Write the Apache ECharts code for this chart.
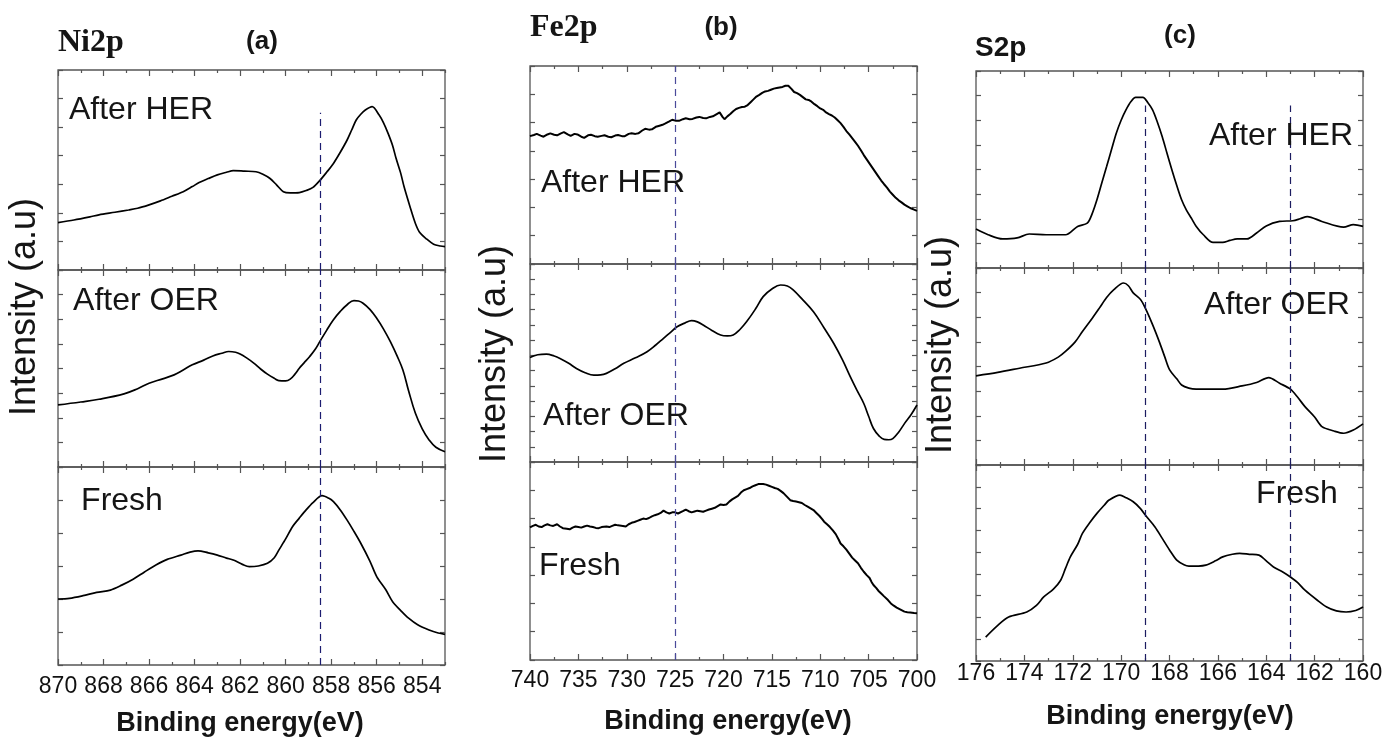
<!DOCTYPE html>
<html>
<head>
<meta charset="utf-8">
<script src="https://cdn.jsdelivr.net/npm/echarts@6/dist/echarts.min.js"></script>
<style>
html,body{margin:0;padding:0;background:#fff;}
#chart{width:1387px;height:742px;}
</style>
</head>
<body>
<div id="chart"></div>
<script>
// ---------------- DATA ----------------
// Ni2p panel (a): binding energy (eV), intensity (a.u.)
const niHER = [[870,1.66],[869.3,1.75],[868.6,1.86],[868.2,1.93],[867.5,2.02],[866.9,2.1],[866.5,2.16],[866,2.28],[865.5,2.42],[865,2.58],[864.5,2.74],[864.1,2.92],[863.8,3.06],[863.4,3.2],[863,3.33],[862.6,3.42],[862.3,3.48],[861.8,3.46],[861.3,3.44],[861,3.35],[860.7,3.21],[860.4,2.98],[860.1,2.74],[859.8,2.7],[859.4,2.71],[859.1,2.78],[858.8,2.89],[858.5,3.13],[858.2,3.42],[857.9,3.73],[857.6,4.12],[857.3,4.55],[857.1,4.9],[856.9,5.25],[856.7,5.45],[856.5,5.6],[856.2,5.72],[855.9,5.43],[855.7,5.15],[855.5,4.78],[855.3,4.35],[855.15,3.91],[854.95,3.4],[854.8,2.92],[854.55,2.25],[854.3,1.63],[854.1,1.3],[853.8,1.08],[853.5,0.9],[853.2,0.84],[853,0.82]];
const niOER = [[870,2.52],[869,2.64],[868.2,2.75],[867.1,2.97],[866.5,3.18],[866,3.4],[865.4,3.58],[864.9,3.74],[864.5,3.94],[864.1,4.15],[863.6,4.34],[863.2,4.51],[862.8,4.62],[862.5,4.69],[862.2,4.66],[862,4.59],[861.7,4.42],[861.4,4.22],[861.1,3.98],[860.8,3.77],[860.5,3.6],[860.3,3.51],[860,3.5],[859.8,3.57],[859.6,3.76],[859.4,4.01],[859.2,4.22],[858.95,4.48],[858.7,4.78],[858.5,5.09],[858.2,5.55],[857.9,5.98],[857.6,6.32],[857.3,6.59],[857,6.76],[856.8,6.74],[856.6,6.65],[856.3,6.4],[856,6.04],[855.7,5.6],[855.4,5.09],[855.1,4.5],[854.85,3.94],[854.6,3.1],[854.3,2.18],[854,1.55],[853.7,1.1],[853.4,0.8],[853,0.62]];
const niFresh = [[870,2.0],[869.5,2.02],[868.9,2.1],[868.3,2.2],[867.7,2.27],[867.2,2.42],[866.7,2.6],[866.2,2.82],[865.7,3.03],[865.2,3.2],[864.6,3.33],[864.2,3.42],[863.85,3.46],[863.4,3.4],[863,3.33],[862.6,3.24],[862.3,3.18],[861.9,3.05],[861.6,2.98],[861.2,3.0],[860.8,3.08],[860.5,3.25],[860.3,3.48],[860,3.82],[859.7,4.19],[859.4,4.45],[859.1,4.7],[858.8,4.92],[858.4,5.13],[858.1,5.05],[857.9,4.95],[857.6,4.7],[857.3,4.39],[857,4.05],[856.7,3.69],[856.3,3.15],[856,2.68],[855.6,2.28],[855.3,1.92],[854.9,1.62],[854.6,1.42],[854.2,1.22],[853.7,1.06],[853.3,0.97],[853,0.93]];

// Fe2p panel (b)
const feHER = [[740,4.52],[739.6,4.56],[739.3,4.6],[738.9,4.54],[738.6,4.5],[738.2,4.58],[737.9,4.62],[737.5,4.57],[737.2,4.55],[736.8,4.62],[736.5,4.66],[736.1,4.58],[735.8,4.53],[735.4,4.6],[735.1,4.58],[734.7,4.5],[734.4,4.46],[734,4.55],[733.7,4.57],[733.3,4.52],[733,4.5],[732.6,4.53],[732.3,4.55],[731.9,4.5],[731.6,4.48],[731.2,4.54],[730.9,4.56],[730.5,4.52],[730.2,4.52],[729.8,4.6],[729.5,4.62],[729.1,4.6],[728.8,4.62],[728.4,4.72],[728.1,4.78],[727.7,4.75],[727.4,4.76],[727,4.85],[726.7,4.88],[726.3,4.92],[726,4.97],[725.6,5.04],[725.3,5.1],[724.9,5.06],[724.6,5.06],[724.2,5.12],[723.9,5.15],[723.5,5.12],[723.2,5.13],[722.8,5.18],[722.5,5.2],[722.1,5.16],[721.8,5.15],[721.4,5.2],[721.1,5.22],[720.7,5.3],[720.4,5.36],[720.1,5.2],[719.9,5.12],[719.6,5.22],[719.3,5.3],[719,5.4],[718.7,5.48],[718.4,5.52],[718.1,5.55],[717.8,5.56],[717.5,5.62],[717.2,5.72],[716.9,5.82],[716.6,5.92],[716.3,5.98],[716,6.05],[715.7,6.1],[715.4,6.12],[715.1,6.16],[714.8,6.2],[714.5,6.22],[714.2,6.24],[713.9,6.26],[713.6,6.3],[713.3,6.3],[713,6.2],[712.7,6.08],[712.4,6.04],[712.1,5.98],[711.8,5.9],[711.5,5.82],[711.2,5.8],[710.9,5.74],[710.6,5.65],[710.3,5.58],[710,5.5],[709.7,5.45],[709.4,5.36],[709.1,5.3],[708.8,5.25],[708.5,5.18],[708.2,5.08],[707.9,4.98],[707.6,4.85],[707.3,4.7],[707,4.58],[706.7,4.45],[706.4,4.32],[706.1,4.18],[705.8,4.02],[705.5,3.85],[705.2,3.7],[704.9,3.55],[704.6,3.4],[704.3,3.25],[704,3.1],[703.7,2.95],[703.4,2.82],[703.1,2.7],[702.8,2.56],[702.5,2.45],[702.2,2.34],[701.9,2.25],[701.6,2.18],[701.3,2.1],[701,2.04],[700.7,1.98],[700.3,1.92],[700,1.88]];
const feOER = [[740,3.43],[739.2,3.52],[738.3,3.54],[737.5,3.48],[736.9,3.4],[736,3.24],[735.2,3.07],[734.3,2.93],[733.4,2.85],[732.7,2.86],[732.1,2.91],[731.2,3.06],[730.3,3.24],[729.1,3.42],[727.9,3.62],[727,3.84],[726.2,4.06],[725.5,4.25],[724.8,4.44],[724,4.56],[723.3,4.64],[722.7,4.6],[722.1,4.5],[721.2,4.32],[720.3,4.17],[719.6,4.14],[719,4.17],[718.3,4.35],[717.6,4.61],[716.7,5.02],[715.9,5.43],[715,5.68],[714.1,5.81],[713.4,5.78],[712.8,5.65],[711.8,5.32],[710.7,4.93],[709.6,4.4],[708.6,3.89],[707.7,3.35],[706.9,2.8],[706.2,2.35],[705.5,1.92],[705,1.5],[704.5,1.1],[703.9,0.85],[703.4,0.74],[702.9,0.73],[702.5,0.77],[701.9,0.98],[701.3,1.26],[700.6,1.56],[700,1.87]];
const feFresh = [[740,4.69],[739.7,4.74],[739.4,4.78],[739.1,4.72],[738.8,4.7],[738.5,4.76],[738.2,4.8],[737.9,4.76],[737.6,4.74],[737.2,4.8],[736.9,4.72],[736.6,4.66],[736.2,4.64],[735.9,4.62],[735.6,4.68],[735.3,4.72],[735,4.7],[734.7,4.68],[734.4,4.72],[734.1,4.75],[733.8,4.72],[733.5,4.7],[733.2,4.67],[732.9,4.66],[732.6,4.7],[732.4,4.73],[732.1,4.72],[731.8,4.7],[731.5,4.74],[731.2,4.78],[730.9,4.76],[730.7,4.77],[730.4,4.74],[730.1,4.72],[729.8,4.8],[729.5,4.85],[729.2,4.88],[728.9,4.92],[728.6,4.96],[728.3,5.0],[728,4.98],[727.7,5.02],[727.4,5.08],[727.1,5.12],[726.8,5.15],[726.5,5.2],[726.2,5.28],[725.9,5.22],[725.6,5.18],[725.3,5.22],[725,5.22],[724.7,5.18],[724.5,5.2],[724.2,5.26],[723.9,5.32],[723.6,5.26],[723.3,5.22],[723,5.25],[722.7,5.28],[722.4,5.26],[722.1,5.24],[721.8,5.28],[721.5,5.32],[721.2,5.35],[720.9,5.38],[720.6,5.44],[720.3,5.5],[720,5.48],[719.7,5.5],[719.4,5.6],[719.1,5.68],[718.8,5.74],[718.5,5.8],[718.2,5.92],[717.9,6.0],[717.6,6.04],[717.3,6.08],[717,6.14],[716.7,6.18],[716.4,6.22],[716.2,6.24],[715.9,6.22],[715.6,6.2],[715.3,6.16],[715,6.12],[714.7,6.08],[714.4,6.05],[714.1,5.98],[713.8,5.9],[713.4,5.76],[713.1,5.65],[712.8,5.62],[712.5,5.6],[712.2,5.58],[711.9,5.55],[711.6,5.48],[711.3,5.42],[711,5.36],[710.7,5.3],[710.4,5.2],[710.1,5.1],[709.8,4.98],[709.6,4.89],[709.3,4.8],[709,4.7],[708.7,4.58],[708.4,4.45],[708.1,4.26],[707.9,4.12],[707.6,4.02],[707.3,3.9],[707,3.76],[706.7,3.62],[706.4,3.52],[706.1,3.42],[705.8,3.26],[705.5,3.12],[705.2,3.0],[704.9,2.9],[704.7,2.76],[704.5,2.65],[704.2,2.54],[704,2.45],[703.7,2.35],[703.4,2.25],[703,2.12],[702.7,2.0],[702.4,1.92],[702.1,1.85],[701.7,1.78],[701.3,1.71],[701,1.69],[700.7,1.68],[700.3,1.66],[700,1.65]];

// S2p panel (c)
const sHER = [[176,1.58],[175.5,1.35],[174.9,1.18],[174.3,1.22],[173.8,1.38],[173.1,1.35],[172.3,1.35],[171.8,1.69],[171.4,1.82],[171.2,2.2],[171,2.77],[170.8,3.45],[170.6,4.12],[170.4,4.8],[170.2,5.47],[170,6.0],[169.8,6.42],[169.6,6.75],[169.4,6.93],[169.1,6.93],[168.9,6.72],[168.7,6.42],[168.5,5.92],[168.3,5.33],[168.1,4.65],[167.9,3.98],[167.7,3.35],[167.5,2.77],[167.3,2.35],[167.1,2.03],[166.9,1.7],[166.6,1.35],[166.2,1.04],[165.8,1.04],[165.5,1.12],[165.2,1.18],[164.8,1.18],[164.4,1.42],[164,1.71],[163.45,1.89],[162.9,1.92],[162.6,2.0],[162.3,2.09],[161.7,1.89],[160.8,1.66],[160.4,1.76],[160,1.69]];
const sOER = [[176,3.62],[175.1,3.76],[174.2,3.93],[173.1,4.14],[172.6,4.38],[172.3,4.61],[171.9,5.0],[171.6,5.42],[171.2,5.95],[170.9,6.37],[170.6,6.8],[170.3,7.12],[169.9,7.39],[169.7,7.28],[169.5,6.99],[169.2,6.72],[169,6.37],[168.7,5.7],[168.4,4.95],[168.2,4.4],[168,3.87],[167.7,3.5],[167.5,3.25],[167.2,3.12],[166.9,3.08],[166.3,3.08],[165.8,3.08],[165,3.21],[164.4,3.35],[163.9,3.55],[163.45,3.32],[163,3.08],[162.7,2.75],[162.4,2.37],[162,1.95],[161.7,1.56],[161.2,1.38],[160.8,1.29],[160.4,1.42],[160,1.67]];
const sFresh = [[175.6,1.1],[175.1,1.64],[174.65,2.02],[173.9,2.25],[173.5,2.55],[173.2,2.94],[172.8,3.3],[172.5,3.71],[172.3,4.25],[172.1,4.78],[171.8,5.35],[171.6,5.86],[171.3,6.35],[171,6.78],[170.7,7.15],[170.5,7.39],[170.05,7.62],[169.8,7.5],[169.5,7.31],[169.2,7.0],[169,6.7],[168.6,6.15],[168.3,5.63],[168,5.1],[167.7,4.63],[167.4,4.42],[167.2,4.36],[166.8,4.36],[166.5,4.4],[166.1,4.6],[165.8,4.78],[165.4,4.9],[165.1,4.94],[164.7,4.9],[164.3,4.86],[164,4.6],[163.7,4.32],[163.3,4.08],[163,3.86],[162.7,3.6],[162.4,3.25],[161.9,2.8],[161.5,2.48],[161.1,2.3],[160.7,2.25],[160.3,2.32],[160,2.48]];

// Tick values
const niMajor = [854,856,858,860,862,864,866,868,870];
const niMinor = [853,855,857,859,861,863,865,867,869];
const feMajor = [700,705,710,715,720,725,730,735,740];
const feMinor = [702.5,707.5,712.5,717.5,722.5,727.5,732.5,737.5];
const sMajor = [160,162,164,166,168,170,172,174,176];
const sMinor = [161,163,165,167,169,171,173,175];

// Reference (dashed) lines and their top in the upper sub-plot
const niDash = [858.5];
const feDash = [725];
const sDash = [169, 163];
const niDashTop = 5.5;
const sDashTop = 6.6;

// Texts
const panelTitles = ['Ni2p', 'Fe2p', 'S2p'];
const panelTags = ['(a)', '(b)', '(c)'];
const stateNames = ['After HER', 'After OER', 'Fresh'];
const yTitle = 'Intensity (a.u)';
const xTitle = 'Binding energy(eV)';

// ---------------- LAYOUT ----------------
const panels = [
  { grids: [[58,70,387,200],[58,270,387,197],[58,467,387,198]], xMin:853, xMax:870,
    major:niMajor, minor:niMinor, data:[niHER,niOER,niFresh], smooth:[0.3,0.4,0.3], width:[1.7,1.7,1.7],
    yMax:[7,8,6], yStep:[1,1,1], dash:niDash, dashTop:[niDashTop,null,null], labelMargin:10, dashColor:'#1c1c70' },
  { grids: [[530,66,387,198],[530,264,387,198],[530,462,387,198]], xMin:700, xMax:740,
    major:feMajor, minor:feMinor, data:[feHER,feOER,feFresh], smooth:[false,0.4,false], width:[2,1.7,2],
    yMax:[7,6.5,7], yStep:[1,0.5,1], dash:feDash, dashTop:[null,null,null], labelMargin:9, dashColor:'#4a4a9a' },
  { grids: [[976,71,387,197],[976,268,387,197],[976,465,387,196]], xMin:160, xMax:176,
    major:sMajor, minor:sMinor, data:[sHER,sOER,sFresh], smooth:[0.3,0.3,0.3], width:[1.7,1.7,1.7],
    yMax:[8,8,9], yStep:[1,1,1], dash:sDash, dashTop:[sDashTop,null,null], labelMargin:1, dashColor:'#1c1c60' }
];

const AX = '#555';
function mkX(gi, pos, vals, len, showLabel, p) {
  return {
    type:'value', gridIndex:gi, position:pos, min:p.xMin, max:p.xMax, inverse:true,
    axisLine:{show:false}, splitLine:{show:false},
    axisTick:{show:true, inside:true, length:len, customValues:vals, lineStyle:{color:AX, width:1.2}},
    axisLabel:{show:showLabel, customValues:vals, margin:p.labelMargin, fontSize:23,
      fontFamily:'"Liberation Sans", Arial, sans-serif', color:'#111'}
  };
}
function mkY(gi, pos, max, step) {
  return {
    type:'value', gridIndex:gi, position:pos, min:0, max:max, interval:step,
    axisLine:{show:false}, splitLine:{show:false}, axisLabel:{show:false},
    axisTick:{show:true, inside:true, length:5, lineStyle:{color:AX, width:1.2}}
  };
}

const grid = [], xAxis = [], yAxis = [], series = [];
panels.forEach(p => {
  p.grids.forEach((g, k) => {
    const gi = grid.length;
    grid.push({left:g[0], top:g[1], width:g[2], height:g[3], show:true,
      borderColor:AX, borderWidth:1.3, backgroundColor:'transparent'});
    const xi = xAxis.length;
    xAxis.push(mkX(gi,'bottom',p.major,6,k===2,p));
    xAxis.push(mkX(gi,'bottom',p.minor,3,false,p));
    xAxis.push(mkX(gi,'top',p.major,6,false,p));
    xAxis.push(mkX(gi,'top',p.minor,3,false,p));
    const yi = yAxis.length;
    yAxis.push(mkY(gi,'left',p.yMax[k],p.yStep[k]));
    yAxis.push(mkY(gi,'right',p.yMax[k],p.yStep[k]));
    const top = p.dashTop[k] == null ? p.yMax[k] : p.dashTop[k];
    series.push({
      type:'line', xAxisIndex:xi, yAxisIndex:yi, data:p.data[k], showSymbol:false,
      smooth:p.smooth[k], lineStyle:{color:'#000', width:p.width[k]}, silent:true, z:3,
      markLine:{
        silent:true, symbol:['none','none'], label:{show:false}, animation:false,
        lineStyle:{type:[7,5], color:p.dashColor, width:1.2},
        data: p.dash.map(x => [{coord:[x,0]},{coord:[x,top]}])
      }
    });
  });
});

// ---------------- TEXT ----------------
const SANS = '"Liberation Sans", Arial, sans-serif';
const graphic = [];
function txt(x, y, text, font, align, rot) {
  const el = {type:'text', x:x, y:y, silent:true, z:10,
    style:{text:text, font:font, textAlign:align||'left', textVerticalAlign:'middle', fill:'#151515'}};
  if (rot) el.rotation = rot;
  graphic.push(el);
}
// panel titles
txt(58, 43, panelTitles[0], 'bold 32px "Liberation Serif", "Times New Roman", serif', 'left');
txt(530, 28, panelTitles[1], 'bold 32px "Liberation Serif", "Times New Roman", serif', 'left');
txt(975, 48, panelTitles[2], 'bold 28px ' + SANS, 'left');
txt(262, 42, panelTags[0], 'bold 26px ' + SANS, 'center');
txt(721, 28, panelTags[1], 'bold 26px ' + SANS, 'center');
txt(1180, 36, panelTags[2], 'bold 26px ' + SANS, 'center');
// state labels
const stateFont = '32px ' + SANS;
const statePos = [
  [[141,110],[146,301],[122,501]],
  [[613,183],[616,416],[580,566]],
  [[1281,136],[1277,305],[1297,494]]
];
statePos.forEach(pp => pp.forEach((pt, k) => txt(pt[0], pt[1], stateNames[k], stateFont, 'center')));
// axis titles
const yPos = [[25,307],[495,354],[941,345]];
yPos.forEach(pt => txt(pt[0], pt[1], yTitle, '36px ' + SANS, 'center', Math.PI/2));
const xPos = [[240,724],[728,722],[1170,717]];
xPos.forEach(pt => txt(pt[0], pt[1], xTitle, 'bold 27px ' + SANS, 'center'));

const chart = echarts.init(document.getElementById('chart'));
chart.setOption({
  animation:false,
  backgroundColor:'#fff',
  grid:grid, xAxis:xAxis, yAxis:yAxis, series:series, graphic:graphic
});
</script>
</body>
</html>
